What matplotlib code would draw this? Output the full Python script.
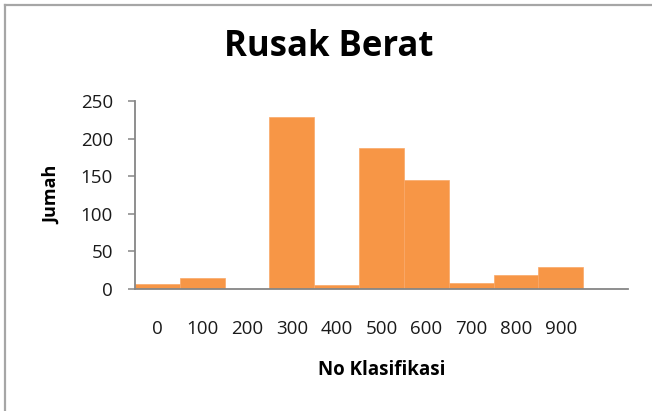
import matplotlib
matplotlib.use("Agg")
import matplotlib.pyplot as plt
from matplotlib.lines import Line2D

categories = ["0", "100", "200", "300", "400", "500", "600", "700", "800", "900"]
values = [6, 14, 0, 229, 5, 188, 145, 8, 18, 29]
y_ticks = [0, 50, 100, 150, 200, 250]

W, H = 652, 411
fig = plt.figure(figsize=(W / 100, H / 100), dpi=100)
plt.rcParams['font.family'] = ['Open Sans', 'DejaVu Sans']

left, right, top, bottom = 135, 628, 101, 289
ax = fig.add_axes([left / W, 1 - bottom / H, (right - left) / W, (bottom - top) / H])

xs = list(range(len(categories)))
ax.bar(xs, values, width=1.0, color='#F79646', edgecolor='#F9A868', linewidth=0.5, zorder=2)
ax.set_xlim(-0.5, len(categories) + 0.5)
ax.set_ylim(0, 250)
ax.set_yticks(y_ticks)
ax.set_xticks(xs)
ax.set_xticklabels(categories)

for s in ['top', 'right']:
    ax.spines[s].set_visible(False)
for s in ['left', 'bottom']:
    ax.spines[s].set_color('#868686')
    ax.spines[s].set_linewidth(1.3)
ax.spines['bottom'].set_zorder(3)

ax.tick_params(axis='x', length=0, pad=22, labelsize=13.5, labelcolor='#1a1a1a')
ax.tick_params(axis='y', length=5, width=1.1, color='#868686', pad=11, labelsize=13.5, labelcolor='#1a1a1a')

ax.set_xlabel('No Klasifikasi', fontsize=13.5, fontweight='bold', labelpad=16)
ax.set_ylabel('Jumah', fontsize=13, fontweight='bold', labelpad=14)

fig.text(329 / W, 1 - 47 / H, 'Rusak Berat', fontsize=25, fontweight='bold',
         ha='center', va='center')

# outer frame (top and left edges visible)
fig.add_artist(Line2D([5 / W, 1], [1 - 5 / H, 1 - 5 / H], transform=fig.transFigure,
                      color='#A6A6A6', linewidth=1.6))
fig.add_artist(Line2D([5 / W, 5 / W], [0, 1 - 5 / H], transform=fig.transFigure,
                      color='#A6A6A6', linewidth=1.6))

fig.savefig('out.png', dpi=100)
